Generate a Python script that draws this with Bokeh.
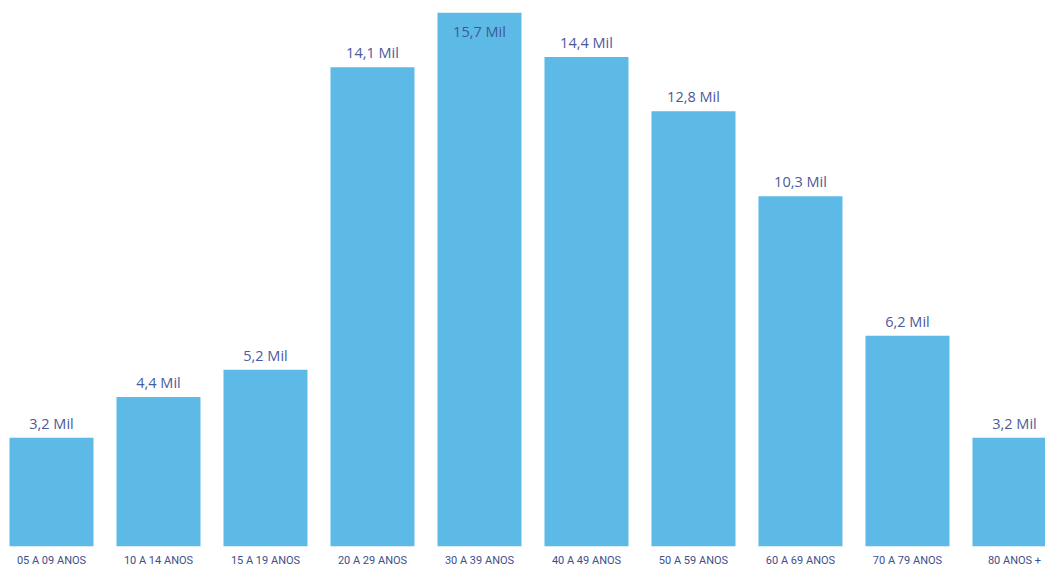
from bokeh.plotting import figure
from bokeh.models import ColumnDataSource, LabelSet, Range1d
from bokeh.core.properties import value
from bokeh.embed import file_html
from bokeh.resources import INLINE

categories = ["05 A 09 ANOS", "10 A 14 ANOS", "15 A 19 ANOS", "20 A 29 ANOS", "30 A 39 ANOS",
              "40 A 49 ANOS", "50 A 59 ANOS", "60 A 69 ANOS", "70 A 79 ANOS", "80 ANOS +"]
values = [3.2, 4.4, 5.2, 14.1, 15.7, 14.4, 12.8, 10.3, 6.2, 3.2]
value_labels = ["3,2 Mil", "4,4 Mil", "5,2 Mil", "14,1 Mil", "15,7 Mil",
                "14,4 Mil", "12,8 Mil", "10,3 Mil", "6,2 Mil", "3,2 Mil"]

BAR = "#5DB9E5"
LBL = "#4B5A9B"
CAT = "#3E4E8C"

x = list(range(len(categories)))
y_end = 16.06
inside = [v > y_end - 1.0 for v in values]

src_out = ColumnDataSource(dict(x=[xi for xi, f in zip(x, inside) if not f],
                                y=[v for v, f in zip(values, inside) if not f],
                                t=[t for t, f in zip(value_labels, inside) if not f]))
src_in = ColumnDataSource(dict(x=[xi for xi, f in zip(x, inside) if f],
                               y=[v for v, f in zip(values, inside) if f],
                               t=[t for t, f in zip(value_labels, inside) if f]))

p = figure(frame_width=1045, frame_height=546, output_backend="svg", toolbar_location=None,
           x_range=Range1d(-0.4766, 9.290), y_range=Range1d(0, y_end),
           min_border_left=0, min_border_right=0, min_border_top=0, min_border_bottom=22)
p.vbar(x=x, top=values, width=84/107, color=BAR, line_color=None)

p.add_layout(LabelSet(x="x", y="y", text="t", source=src_out, text_align="center",
                      text_baseline="bottom", y_offset=5, text_color=LBL,
                      text_font=value("Open Sans"), text_font_size=value("14.5px")))
p.add_layout(LabelSet(x="x", y="y", text="t", source=src_in, text_align="center",
                      text_baseline="top", y_offset=-9, text_color="#3D5A96",
                      text_font=value("Open Sans"), text_font_size=value("14.5px")))

p.xaxis.ticker = x
p.xaxis.major_label_overrides = {i: c for i, c in zip(x, categories)}
p.xaxis.axis_line_color = None
p.xaxis.major_tick_line_color = None
p.xaxis.minor_tick_line_color = None
p.xaxis.major_tick_out = 0
p.xaxis.major_tick_in = 0
p.xaxis.major_label_standoff = 7
p.xaxis.major_label_text_font = "Roboto"
p.xaxis.major_label_text_font_size = "11px"
p.xaxis.major_label_text_color = CAT
p.yaxis.visible = False
p.grid.visible = False
p.outline_line_color = None
p.background_fill_color = "white"
p.border_fill_color = "white"

open("out.html", "w").write(file_html(p, INLINE))
